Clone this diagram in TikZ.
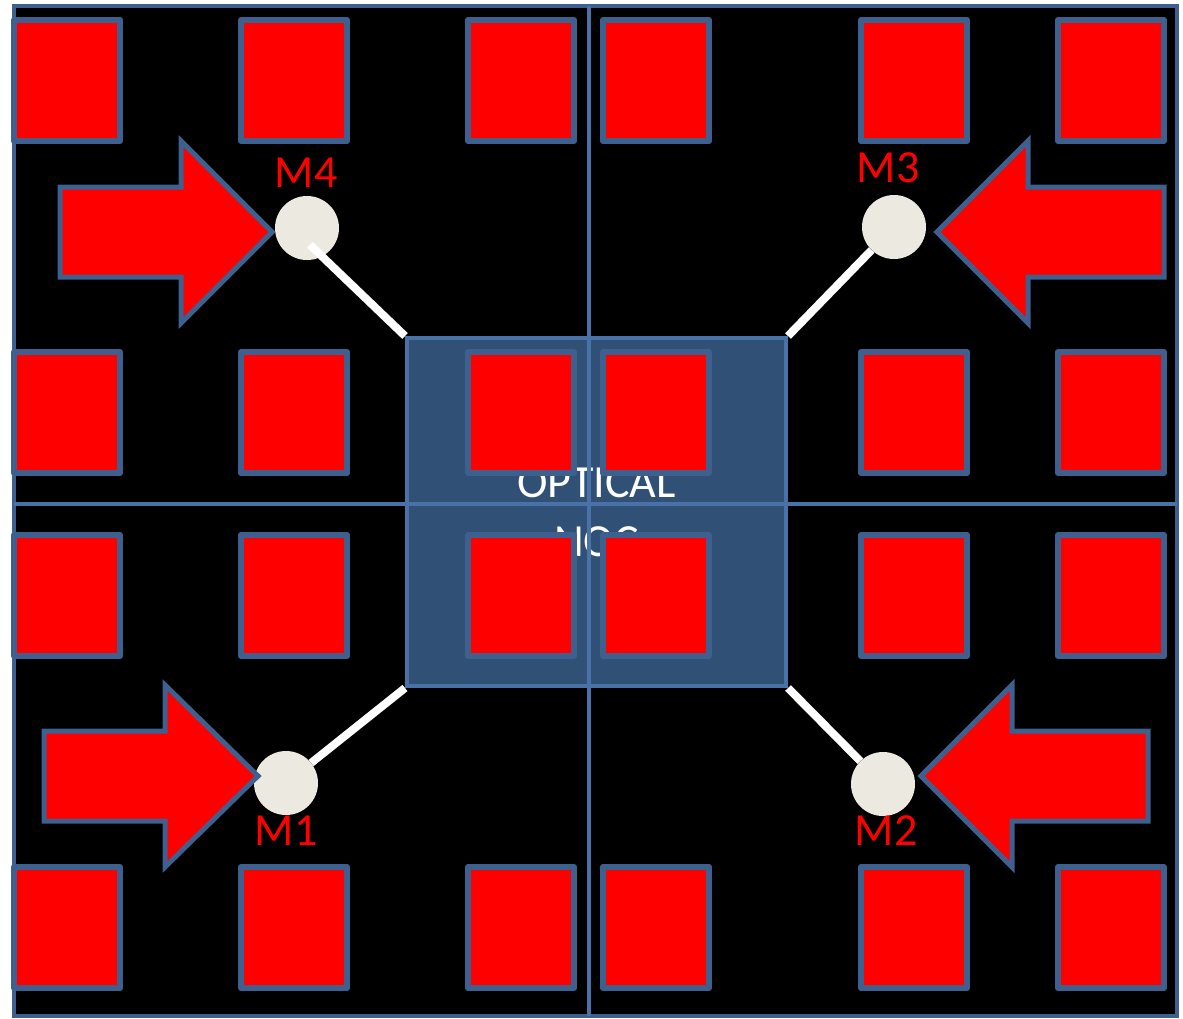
\documentclass[tikz,border=0pt]{standalone}
\usepackage{fontspec}
\setmainfont{Carlito}
\definecolor{edgeblue}{RGB}{62,96,142}
\definecolor{lineblue}{RGB}{72,114,168}
\definecolor{nocfill}{RGB}{49,80,118}
\definecolor{memfill}{RGB}{236,234,224}
\definecolor{coreRed}{RGB}{255,0,0}
\tikzset{
  core/.style={fill=coreRed, draw=edgeblue, line width=6pt, line join=round},
  bigarrow/.style={fill=coreRed, draw=edgeblue, line width=5pt, line join=miter},
  memnode/.style={circle, fill=memfill, minimum size=64pt, inner sep=0pt},
  memlabel/.style={text=coreRed, inner sep=0pt, font=\fontsize{46}{46}\selectfont},
  link/.style={white, line width=8pt},
  divider/.style={lineblue, line width=4pt}
}
\begin{document}
\begin{tikzpicture}[x=1pt,y=-1pt]

  \useasboundingbox (0,0) rectangle (1183,1018);

  % Chip outline
  \fill[black] (14,6) rectangle (1177,1016);
  \draw[edgeblue, line width=4.5pt] (14,6) rectangle (1177,1016);

  % Optical network in the middle
  \node[fill=nocfill, draw=lineblue, line width=4pt, minimum width=379pt,
        minimum height=348pt, inner sep=0pt, text=white, align=center,
        font=\fontsize{46}{59}\selectfont] (noc) at (596.5,512)
    {OPTICAL\\NOC};

  % Cores
  \foreach \xc in {14, 241, 468, 603, 861, 1058}{
    \foreach \yc in {20, 352, 535, 867}{
      \draw[core] (\xc,\yc) rectangle +(106,121);
    }
  }

  % Quadrant borders
  \draw[divider] (589,6) -- (589,1016);
  \draw[divider] (14,504) -- (1177,504);

  % Memory controllers
  \node[memnode] (m4) at (307,228) {};
  \node[memnode] (m3) at (894,227) {};
  \node[memnode] (m1) at (286,783) {};
  \node[memnode] (m2) at (883,784) {};

  \draw[link, shorten <=4pt] ([yshift=-14pt]m4.center) -- (noc.north west);
  \draw[link] (m3) -- (noc.north east);
  \draw[link] (m1) -- (noc.south west);
  \draw[link] (m2) -- (noc.south east);

  \node[memlabel] (m4lbl) at (306,173) {M4};
  \node[memlabel] (m3lbl) at (888,168) {M3};
  \node[memlabel] (m1lbl) at (286,831) {M1};
  \node[memlabel] (m2lbl) at (886,831) {M2};

  % Off-chip traffic into the controllers
  \draw[bigarrow] (60,187) -- (181,187) -- (181,141) -- (272,232)
    -- (181,323) -- (181,277) -- (60,277) -- cycle;
  \draw[bigarrow] (1164,187) -- (1028,187) -- (1028,141) -- (937,232)
    -- (1028,323) -- (1028,277) -- (1164,277) -- cycle;
  \draw[bigarrow] (44,731) -- (165,731) -- (165,685) -- (258,776)
    -- (165,867) -- (165,821) -- (44,821) -- cycle;
  \draw[bigarrow] (1148,731) -- (1012,731) -- (1012,685) -- (921,776)
    -- (1012,867) -- (1012,821) -- (1148,821) -- cycle;

\end{tikzpicture}
\end{document}
